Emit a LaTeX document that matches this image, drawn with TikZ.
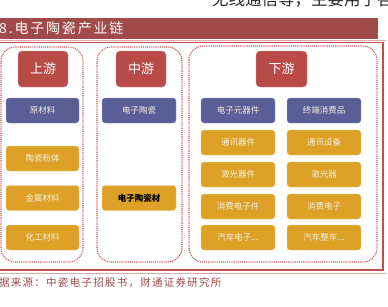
\documentclass[tikz,border=0pt]{standalone}
\usepackage{fontspec}
\newfontfamily\cjk{Noto Sans CJK SC}
\newfontfamily\cjkwide[LetterSpace=13]{Noto Sans CJK SC}
\newfontfamily\cjksrc[LetterSpace=12]{Noto Sans CJK SC}
\definecolor{barred}{HTML}{A04B4A}
\definecolor{hdrred}{HTML}{B84A48}
\definecolor{boxblue}{HTML}{5A5E96}
\definecolor{boxgold}{HTML}{DCA126}
\definecolor{dotred}{HTML}{C85A5A}
\definecolor{framered}{HTML}{C0504D}
\definecolor{srcred}{HTML}{9B4A4A}
\definecolor{boxtext}{HTML}{F6EEDC}
\tikzset{
  hdr/.style={fill=hdrred, draw=hdrred!60!white, line width=0.4pt, rounded corners=4pt, minimum width=50pt, minimum height=36pt, inner sep=0pt, text=white, font=\cjk\fontsize{13}{13}\selectfont},
  bluebox/.style={fill=boxblue, draw=boxblue!60!white, line width=0.4pt, rounded corners=3pt, minimum width=73pt, minimum height=25pt, inner sep=0pt, text=boxtext, font=\cjk\fontsize{8.5}{9}\selectfont},
  goldbox/.style={fill=boxgold, draw=boxgold!50!white, line width=0.4pt, rounded corners=3pt, minimum width=73pt, minimum height=25pt, inner sep=0pt, text=boxtext, font=\cjk\fontsize{8.5}{9}\selectfont},
  grp/.style={draw=dotred, line width=1.1pt, dash pattern=on 1pt off 0.9pt, rounded corners=14pt},
}
\begin{document}
\begin{tikzpicture}[x=1pt,y=-1pt]
\useasboundingbox (0,0) rectangle (388,306);
\clip (0,0) rectangle (388,306);
\fill[white] (0,0) rectangle (388,306);
% clipped top line of text
\node[anchor=west, inner sep=0pt, font=\cjk\fontsize{16.5}{16.5}\selectfont, text=black!85] (toptext) at (212,-1) {无线通信等，主要用于各};
% title bar
\fill[barred] (-2,18) rectangle (378,38.5);
\node[anchor=west, inner sep=0pt, text=white!92!pink, font=\cjkwide\fontsize{14}{14}\selectfont] (title) at (-1,28.5) {8.电子陶瓷产业链};
\draw[framered!50!white, line width=0.6pt] (-2,40.3) -- (386,40.3);
% frame
\draw[framered, line width=1.4pt] (-3,42.2) -- (383,42.2) -- (383,270) -- (-3,270);
\draw[framered!50!white, line width=0.7pt] (-2,273.2) -- (386,273.2);
% groups
\draw[grp] (1,47) rectangle (83,262);
\draw[grp] (97,47) rectangle (182,262);
\draw[grp] (189,46) rectangle (377,262);
% upstream
\node[hdr] (up) at (43,69) {上游};
\node[bluebox] (u1) at (42.5,110.5) {原材料};
\node[goldbox] (u2) at (42.5,158.5) {陶瓷粉体};
\node[goldbox] (u3) at (42.5,198) {金属材料};
\node[goldbox] (u4) at (42.5,237.5) {化工材料};
% midstream
\node[hdr] (mid) at (141,69) {中游};
\node[bluebox, minimum width=74pt] (m1) at (139,110.5) {电子陶瓷};
\node[goldbox, minimum width=74pt, text=black, font=\cjk\bfseries\fontsize{8.5}{9}\selectfont] (m2) at (139,198) {电子陶瓷材};
% downstream
\node[hdr, minimum width=51pt] (down) at (281.5,69) {下游};
\node[bluebox, minimum width=74pt] (d1) at (238,110.5) {电子元器件};
\node[goldbox, minimum width=74pt] (d2) at (238,142.5) {通讯器件};
\node[goldbox, minimum width=74pt] (d3) at (238,174.5) {激光器件};
\node[goldbox, minimum width=74pt] (d4) at (238,206.5) {消费电子件};
\node[goldbox, minimum width=74pt] (d5) at (238,237.5) {汽车电子...};
\node[bluebox, minimum width=74pt] (e1) at (324,110.5) {终端消费品};
\node[goldbox, minimum width=74pt] (e2) at (324,142.5) {通讯设备};
\node[goldbox, minimum width=74pt] (e3) at (324,174.5) {激光器};
\node[goldbox, minimum width=74pt] (e4) at (324,206.5) {消费电子};
\node[goldbox, minimum width=74pt] (e5) at (324,237.5) {汽车整车...};
% source
\node[anchor=west, inner sep=0pt, text=srcred, font=\cjksrc\fontsize{10.5}{10.5}\selectfont] (src) at (-1,283) {据来源：中瓷电子招股书，财通证券研究所};
\end{tikzpicture}
\end{document}
